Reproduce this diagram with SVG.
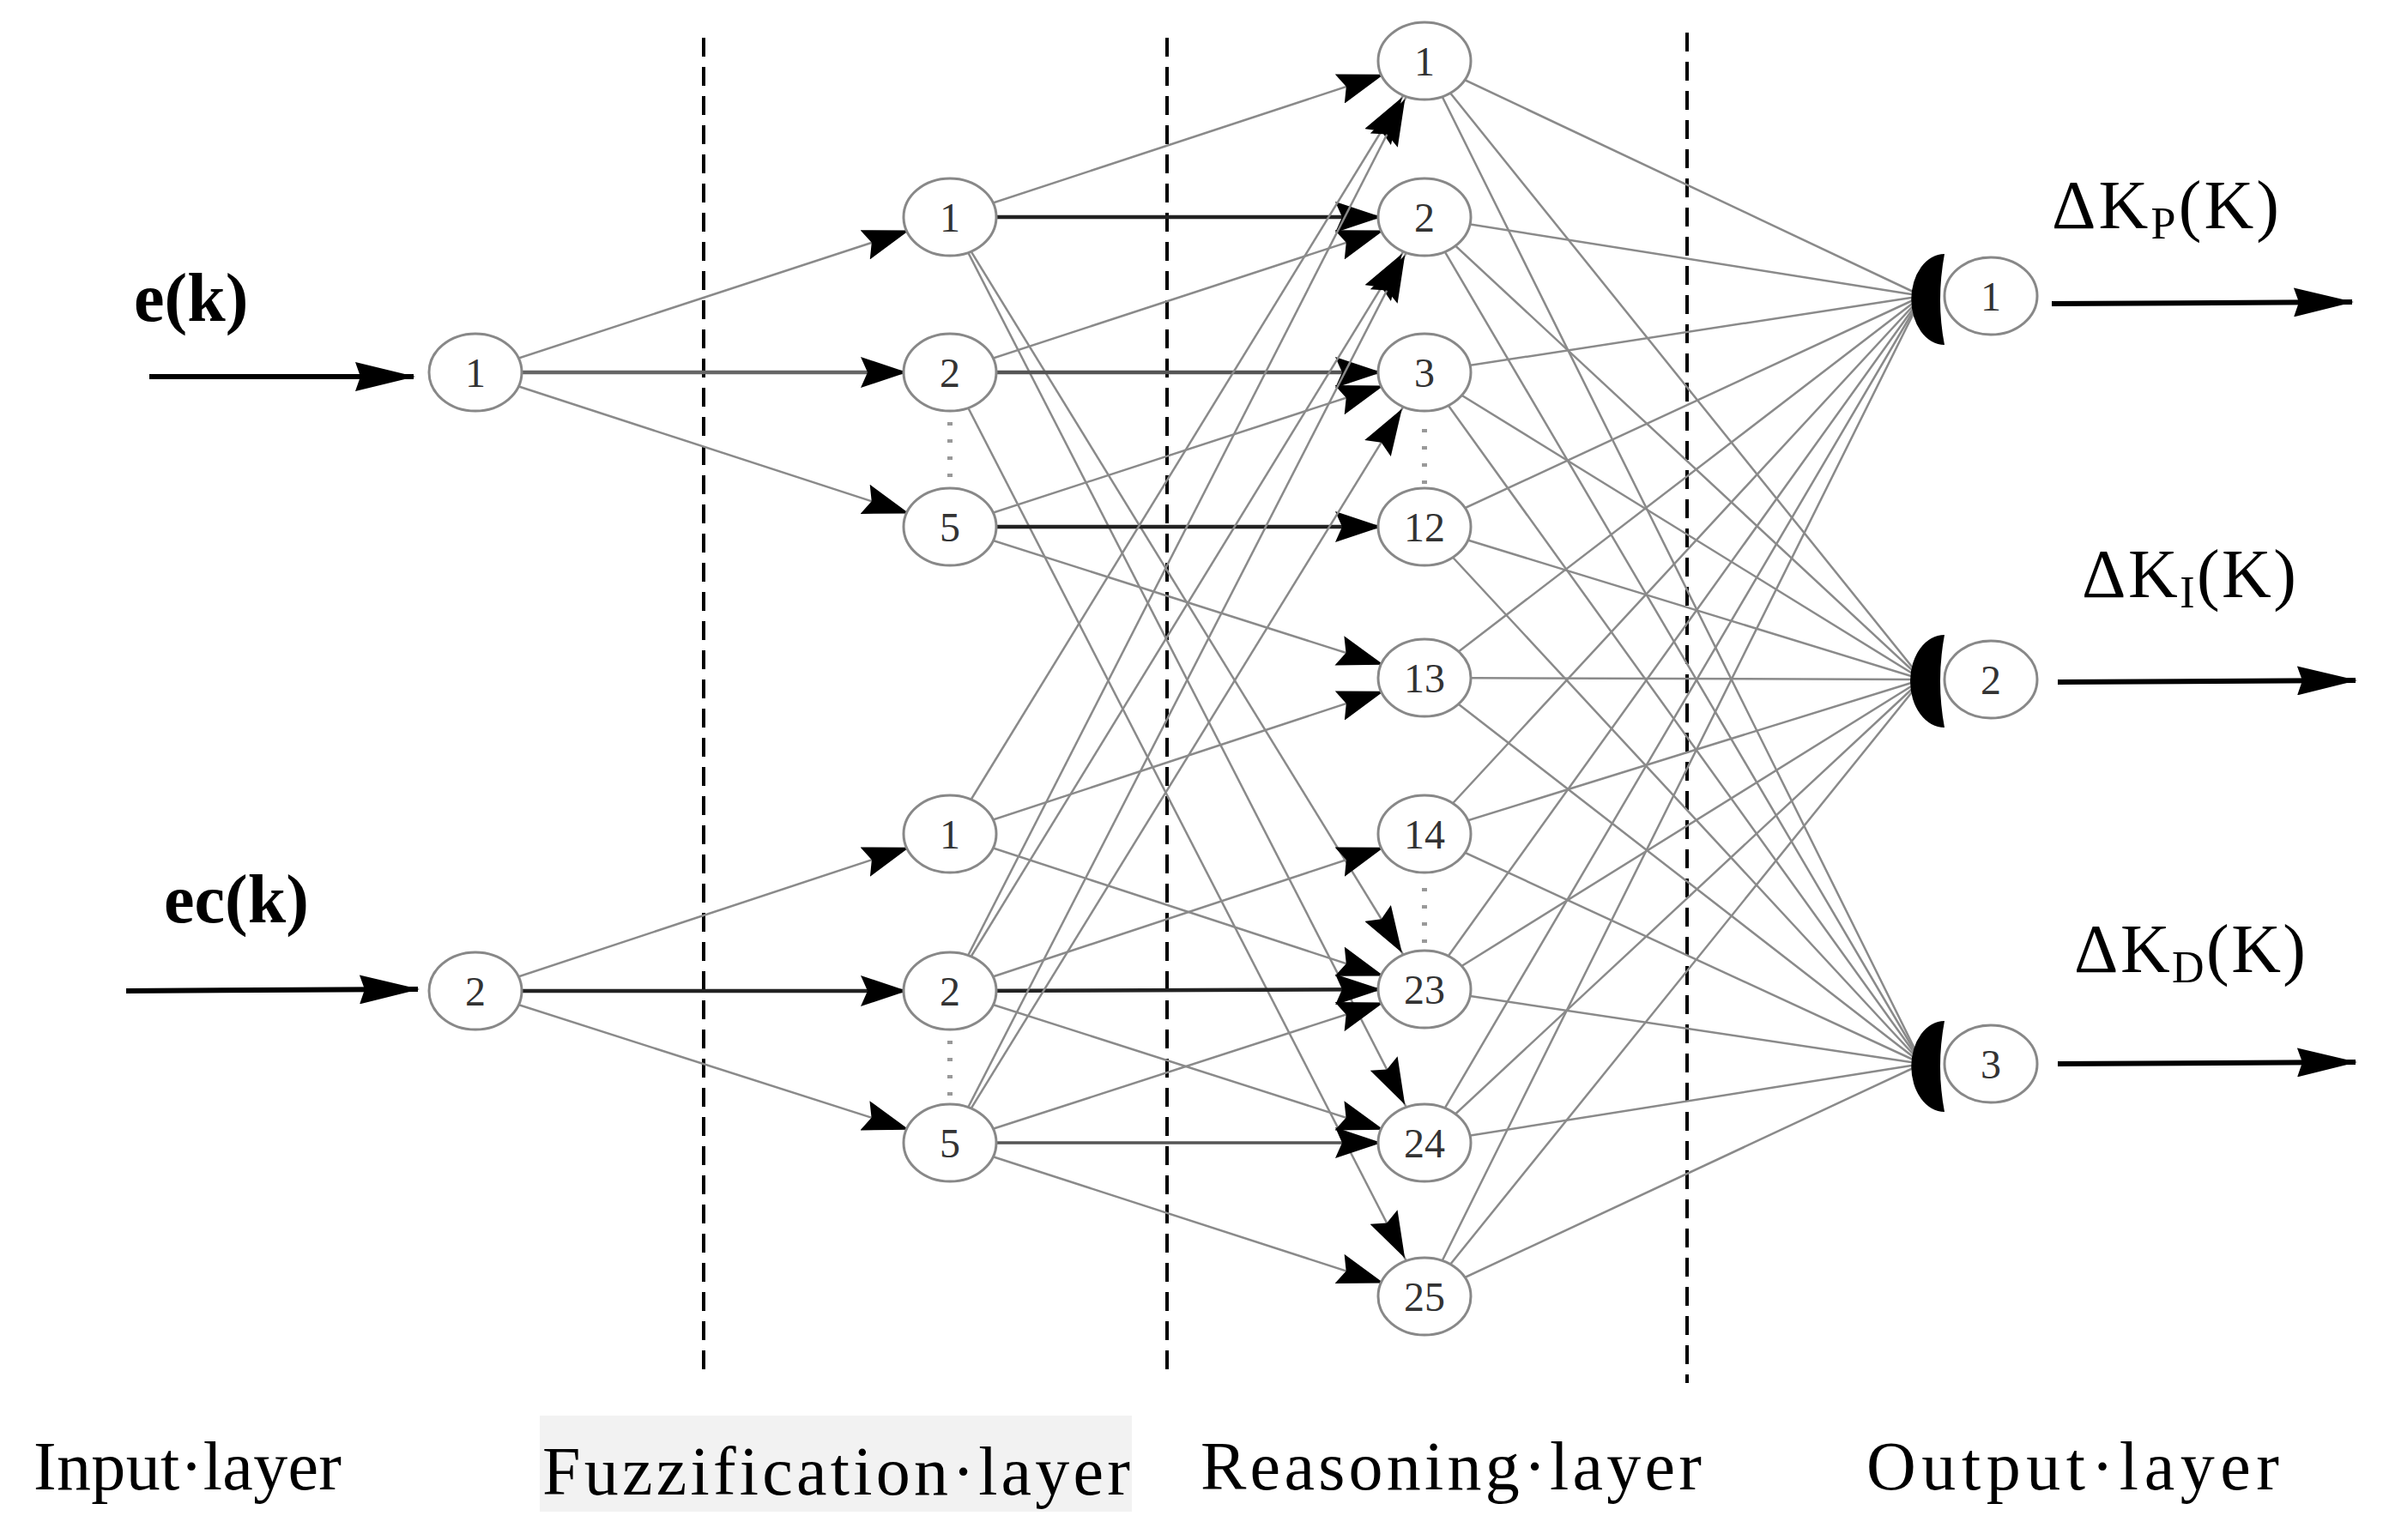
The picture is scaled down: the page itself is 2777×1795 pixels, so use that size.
<svg xmlns="http://www.w3.org/2000/svg" width="2777" height="1795" viewBox="0 0 2777 1795">
<defs>
<marker id="ah" markerUnits="userSpaceOnUse" markerWidth="110" markerHeight="36" viewBox="0 0 110 36" refX="104" refY="18" orient="auto"><path d="M0,0 L54,18 L0,36 L8,18 Z" fill="#000"/></marker>
<marker id="ao" markerUnits="userSpaceOnUse" markerWidth="70" markerHeight="34" viewBox="0 0 70 34" refX="68" refY="17" orient="auto"><path d="M0,0 L70,17 L0,34 L6,17 Z" fill="#000"/></marker>
<style>
.t{stroke:#8a8a8a;stroke-width:2.5;fill:none}
.k{stroke:#222;stroke-width:4.5;fill:none}
.a{marker-end:url(#ah)}
.n ellipse{fill:#fff;stroke:#888;stroke-width:3}
.n text{font-family:"Liberation Serif",serif;font-size:48px;fill:#333;text-anchor:middle;dominant-baseline:central}
.d{stroke:#000;stroke-width:4;stroke-dasharray:22,12}
.lab{font-family:"Liberation Serif",serif;font-size:80px;fill:#000}
.io{stroke:#000;stroke-width:6;marker-end:url(#ao)}
.dots{stroke:#999;stroke-width:6;stroke-dasharray:4,16}
</style>
</defs>
<rect x="629" y="1650" width="690" height="112" fill="#f2f2f2"/>
<g id="dividers">
<line class="d" x1="820" y1="44" x2="820" y2="1603"/>
<line class="d" x1="1360" y1="44" x2="1360" y2="1603"/>
<line class="d" x1="1966" y1="38" x2="1966" y2="1612"/>
</g>
<g id="connectors">
<line class="t a" x1="554" y1="434" x2="1107" y2="253"/>
<line class="k a" x1="554" y1="434" x2="1107" y2="434" style="stroke:#666"/>
<line class="t a" x1="554" y1="434" x2="1107" y2="614"/>
<line class="t a" x1="554" y1="1155" x2="1107" y2="972"/>
<line class="k a" x1="554" y1="1155" x2="1107" y2="1155"/>
<line class="t a" x1="554" y1="1155" x2="1107" y2="1332"/>
<line class="t a" x1="1107" y1="253" x2="1660" y2="71"/>
<line class="k a" x1="1107" y1="253" x2="1660" y2="253"/>
<line class="t a" x1="1107" y1="253" x2="1660" y2="1153"/>
<line class="t a" x1="1107" y1="253" x2="1660" y2="1332"/>
<line class="t a" x1="1107" y1="434" x2="1660" y2="253"/>
<line class="k a" x1="1107" y1="434" x2="1660" y2="434" style="stroke:#555"/>
<line class="t a" x1="1107" y1="434" x2="1660" y2="1511"/>
<line class="t a" x1="1107" y1="614" x2="1660" y2="434"/>
<line class="k a" x1="1107" y1="614" x2="1660" y2="614"/>
<line class="t a" x1="1107" y1="614" x2="1660" y2="790"/>
<line class="t a" x1="1107" y1="972" x2="1660" y2="790"/>
<line class="t a" x1="1107" y1="972" x2="1660" y2="1153"/>
<line class="t a" x1="1107" y1="972" x2="1660" y2="71"/>
<line class="t a" x1="1107" y1="1155" x2="1660" y2="71"/>
<line class="t a" x1="1107" y1="1155" x2="1660" y2="253"/>
<line class="t a" x1="1107" y1="1155" x2="1660" y2="972"/>
<line class="k a" x1="1107" y1="1155" x2="1660" y2="1153"/>
<line class="t a" x1="1107" y1="1155" x2="1660" y2="1332"/>
<line class="t a" x1="1107" y1="1332" x2="1660" y2="253"/>
<line class="t a" x1="1107" y1="1332" x2="1660" y2="434"/>
<line class="t a" x1="1107" y1="1332" x2="1660" y2="1153"/>
<line class="k a" x1="1107" y1="1332" x2="1660" y2="1332" style="stroke:#555;stroke-width:3.5"/>
<line class="t a" x1="1107" y1="1332" x2="1660" y2="1511"/>
<g class="t">
<path d="M1660,71 L2240,345 M1660,71 L2240,792 M1660,71 L2240,1240"/>
<path d="M1660,253 L2240,345 M1660,253 L2240,792 M1660,253 L2240,1240"/>
<path d="M1660,434 L2240,345 M1660,434 L2240,792 M1660,434 L2240,1240"/>
<path d="M1660,614 L2240,345 M1660,614 L2240,792 M1660,614 L2240,1240"/>
<path d="M1660,790 L2240,345 M1660,790 L2240,792 M1660,790 L2240,1240"/>
<path d="M1660,972 L2240,345 M1660,972 L2240,792 M1660,972 L2240,1240"/>
<path d="M1660,1153 L2240,345 M1660,1153 L2240,792 M1660,1153 L2240,1240"/>
<path d="M1660,1332 L2240,345 M1660,1332 L2240,792 M1660,1332 L2240,1240"/>
<path d="M1660,1511 L2240,345 M1660,1511 L2240,792 M1660,1511 L2240,1240"/>
</g>
<line class="io" x1="174" y1="439" x2="482" y2="439"/>
<line class="io" x1="147" y1="1155" x2="487" y2="1153"/>
<line class="io" x1="2391" y1="354" x2="2741" y2="352"/>
<line class="io" x1="2398" y1="795" x2="2745" y2="793"/>
<line class="io" x1="2398" y1="1240" x2="2745" y2="1238"/>
</g>
<g id="dots">
<line class="dots" x1="1107" y1="492" x2="1107" y2="560"/>
<line class="dots" x1="1107" y1="1213" x2="1107" y2="1280"/>
<line class="dots" x1="1660" y1="500" x2="1660" y2="565"/>
<line class="dots" x1="1660" y1="1035" x2="1660" y2="1100"/>
</g>
<g id="in1" class="n"><ellipse cx="554" cy="434" rx="54" ry="45"/><text x="554" y="434">1</text></g>
<g id="in2" class="n"><ellipse cx="554" cy="1155" rx="54" ry="45"/><text x="554" y="1155">2</text></g>
<g id="f1a" class="n"><ellipse cx="1107" cy="253" rx="54" ry="45"/><text x="1107" y="253">1</text></g>
<g id="f2a" class="n"><ellipse cx="1107" cy="434" rx="54" ry="45"/><text x="1107" y="434">2</text></g>
<g id="f5a" class="n"><ellipse cx="1107" cy="614" rx="54" ry="45"/><text x="1107" y="614">5</text></g>
<g id="f1b" class="n"><ellipse cx="1107" cy="972" rx="54" ry="45"/><text x="1107" y="972">1</text></g>
<g id="f2b" class="n"><ellipse cx="1107" cy="1155" rx="54" ry="45"/><text x="1107" y="1155">2</text></g>
<g id="f5b" class="n"><ellipse cx="1107" cy="1332" rx="54" ry="45"/><text x="1107" y="1332">5</text></g>
<g id="r1" class="n"><ellipse cx="1660" cy="71" rx="54" ry="45"/><text x="1660" y="71">1</text></g>
<g id="r2" class="n"><ellipse cx="1660" cy="253" rx="54" ry="45"/><text x="1660" y="253">2</text></g>
<g id="r3" class="n"><ellipse cx="1660" cy="434" rx="54" ry="45"/><text x="1660" y="434">3</text></g>
<g id="r12" class="n"><ellipse cx="1660" cy="614" rx="54" ry="45"/><text x="1660" y="614">12</text></g>
<g id="r13" class="n"><ellipse cx="1660" cy="790" rx="54" ry="45"/><text x="1660" y="790">13</text></g>
<g id="r14" class="n"><ellipse cx="1660" cy="972" rx="54" ry="45"/><text x="1660" y="972">14</text></g>
<g id="r23" class="n"><ellipse cx="1660" cy="1153" rx="54" ry="45"/><text x="1660" y="1153">23</text></g>
<g id="r24" class="n"><ellipse cx="1660" cy="1332" rx="54" ry="45"/><text x="1660" y="1332">24</text></g>
<g id="r25" class="n"><ellipse cx="1660" cy="1511" rx="54" ry="45"/><text x="1660" y="1511">25</text></g>
<g id="o1" class="n"><ellipse cx="2320" cy="345" rx="54" ry="45"/><text x="2320" y="345">1</text><path d="M2266,296 A38 52 0 0 0 2266,402 Q2256,350 2266,296 Z" fill="#000"/></g>
<g id="o2" class="n"><ellipse cx="2320" cy="792" rx="54" ry="45"/><text x="2320" y="792">2</text><path d="M2266,740 A40 54 0 0 0 2266,848 Q2256,794 2266,740 Z" fill="#000"/></g>
<g id="o3" class="n"><ellipse cx="2320" cy="1240" rx="54" ry="45"/><text x="2320" y="1240">3</text><path d="M2266,1190 A38 52 0 0 0 2266,1296 Q2256,1243 2266,1190 Z" fill="#000"/></g>
<g id="labels" class="lab">
<text x="156" y="374" font-weight="bold">e(k)</text>
<text x="191" y="1075" font-weight="bold">ec(k)</text>
<text x="2391" y="266" textLength="265">ΔK<tspan font-size="52" dy="12">P</tspan><tspan dy="-12">(K)</tspan></text>
<text x="2426" y="696" textLength="250">ΔK<tspan font-size="52" dy="12">I</tspan><tspan dy="-12">(K)</tspan></text>
<text x="2417" y="1133" textLength="270">ΔK<tspan font-size="52" dy="12">D</tspan><tspan dy="-12">(K)</tspan></text>
<text x="39" y="1736" textLength="359">Input·layer</text>
<text x="632" y="1742" textLength="685">Fuzzification·layer</text>
<text x="1399" y="1736" textLength="584">Reasoning·layer</text>
<text x="2175" y="1736" textLength="481">Output·layer</text>
</g>
</svg>
